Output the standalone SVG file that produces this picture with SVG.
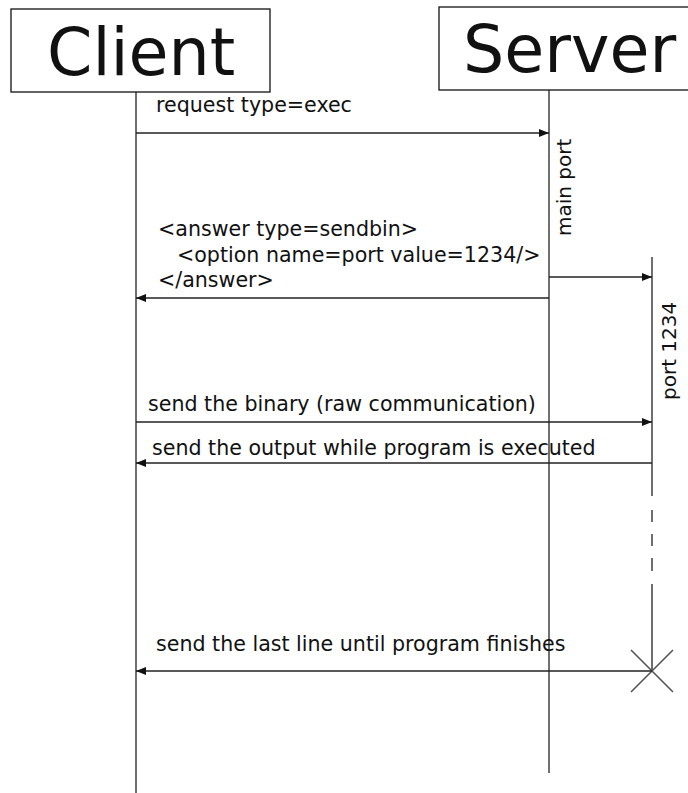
<svg xmlns="http://www.w3.org/2000/svg" width="688" height="793" viewBox="0 0 688 793">
<style>
text{font-family:"DejaVu Sans","Liberation Sans",sans-serif;fill:#111}
.hdr{font-size:65px}
.lbl{font-size:20.6px}
.vl{font-size:20px}
.box{fill:#fff;stroke:#111;stroke-width:1.3}
.life{stroke:#111;stroke-width:1.2;fill:none}
.msg{stroke:#222;stroke-width:1.5;fill:none}
</style>
<defs>
<marker id="ah" viewBox="0 0 10 8" refX="10" refY="4" markerWidth="10" markerHeight="8" markerUnits="userSpaceOnUse" orient="auto">
<path d="M0,0 L10,4 L0,8 Z" fill="#111"/>
</marker>
</defs>
<g id="client">
<rect class="box" x="11" y="9" width="259" height="83"/>
<text class="hdr" x="47" y="75">Client</text>
<line class="life" x1="136" y1="92" x2="136" y2="793"/>
</g>
<g id="server">
<rect class="box" x="439" y="7" width="260" height="83"/>
<text class="hdr" x="463" y="72">Server</text>
<line class="life" x1="549" y1="90" x2="549" y2="773"/>
<text class="vl" transform="translate(571,236) rotate(-90)">main port</text>
</g>
<g id="port1234">
<path class="life" d="M652,257 V496 M652,510 V522 M652,534 V546 M652,558 V571 M652,584 V671"/>
<text class="vl" transform="translate(676,400) rotate(-90)">port 1234</text>
<path d="M631,650 L673,692 M673,650 L631,692" stroke="#555" stroke-width="1.6" fill="none"/>
</g>
<g id="connectors">
<line class="msg" x1="136" y1="133" x2="549" y2="133" marker-end="url(#ah)"/>
<text class="lbl" x="156" y="112">request type=exec</text>
<line class="msg" x1="549" y1="277" x2="652" y2="277" marker-end="url(#ah)"/>
<line class="msg" x1="549" y1="298" x2="136" y2="298" marker-end="url(#ah)"/>
<text class="lbl" x="158" y="236">&lt;answer type=sendbin&gt;</text>
<text class="lbl" x="177" y="262">&lt;option name=port value=1234/&gt;</text>
<text class="lbl" x="158" y="287">&lt;/answer&gt;</text>
<line class="msg" x1="136" y1="422" x2="652" y2="422" marker-end="url(#ah)"/>
<text class="lbl" x="148" y="411">send the binary (raw communication)</text>
<line class="msg" x1="652" y1="463" x2="136" y2="463" marker-end="url(#ah)"/>
<text class="lbl" x="152" y="455">send the output while program is executed</text>
<line class="msg" x1="652" y1="671" x2="136" y2="671" marker-end="url(#ah)"/>
<text class="lbl" x="156" y="651">send the last line until program finishes</text>
</g>
</svg>
